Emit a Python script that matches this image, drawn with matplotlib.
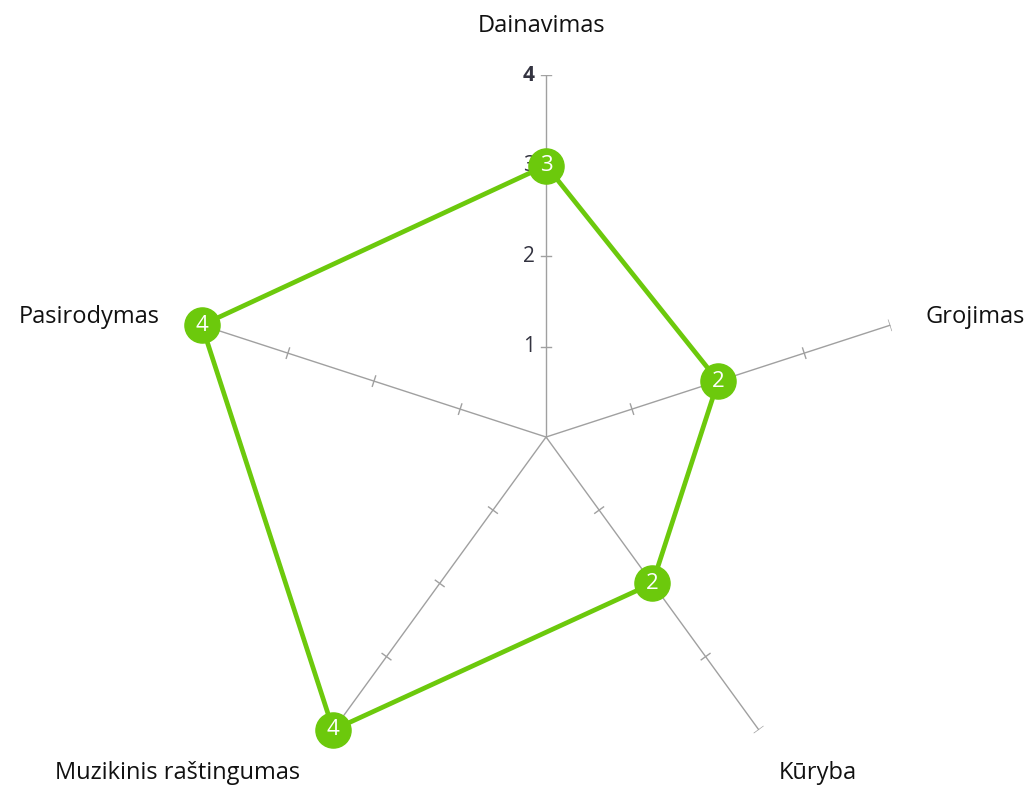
import matplotlib.pyplot as plt, numpy as np

plt.rcParams['font.family'] = ['Open Sans', 'DejaVu Sans']

categories = ['Dainavimas', 'Grojimas', 'Kūryba', 'Muzikinis raštingumas', 'Pasirodymas']
values = [3, 2, 2, 4, 4]
scale_ticks = [1, 2, 3, 4]

green = '#6cc90c'
axis_grey = '#a0a0a0'

fig = plt.figure(figsize=(10.34, 7.88), dpi=100)
ax = fig.add_axes([0.178, -0.0140, 0.7002, 0.9188], projection='polar')
ax.set_theta_zero_location('N')
ax.set_theta_direction(-1)
ax.set_ylim(0, 4)
ax.grid(False)
ax.spines['polar'].set_visible(False)
ax.set_xticks([])
ax.set_yticks([])
ax.patch.set_alpha(0)

n = len(categories)
angles = np.arange(n) * 2 * np.pi / n

# spokes with little cross ticks
for a in angles:
    ax.plot([a, a], [0, 4], color=axis_grey, lw=1.0, zorder=1)
    for r in scale_ticks:
        half = 0.06 / r
        ax.plot([a - half, a + half], [r, r], color=axis_grey, lw=1.0, zorder=1)

# scale labels on the top spoke
for r in scale_ticks:
    ax.annotate(str(r), xy=(0, r), xytext=(-8, 0), textcoords='offset points',
                ha='right', va='center', fontsize=15, color='#333340',
                fontweight='bold' if r == 4 else 'normal', zorder=2)

# data polygon
th = np.append(angles, angles[0])
vv = values + values[:1]
ax.plot(th, vv, color=green, lw=3.4, zorder=3, clip_on=False)
ax.scatter(angles, values, s=640, color=green, zorder=4, clip_on=False)
for a, v in zip(angles, values):
    ax.text(a, v, str(v), color='white', fontsize=16, ha='center', va='center',
            zorder=5)

# category labels, offset (points) from the end of each spoke
label_off = [(-3, 35, 'center'), (25, 6, 'left'), (14, -31, 'left'),
             (-24, -31, 'right'), (-30, 6, 'right')]
for a, name, (dx, dy, ha) in zip(angles, categories, label_off):
    ax.annotate(name, xy=(a, 4), xytext=(dx, dy), textcoords='offset points',
                ha=ha, va='center', fontsize=17, color='#111111',
                annotation_clip=False)

plt.savefig('out.png', dpi=100)
